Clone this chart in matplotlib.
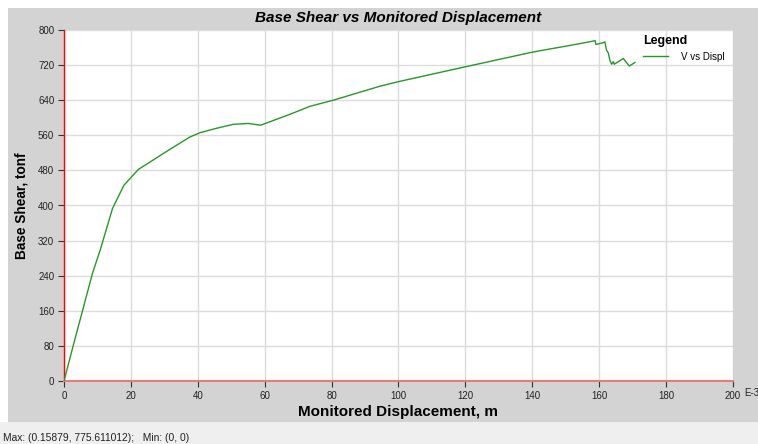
import matplotlib
matplotlib.use("Agg")
import matplotlib.pyplot as plt
from matplotlib.patches import Rectangle

plt.rcParams['font.family'] = ['Liberation Sans', 'DejaVu Sans']

# pushover curve, displacement in E-3 m, base shear in tonf
displ = [0, 2.8, 5.6, 8.5, 10.8, 14.5, 17.9, 22.2, 30, 37.6, 40.7, 45.6, 50.6,
         55.1, 58.8, 61.6, 67.6, 73.5, 80.5, 94.5, 100.4, 119.9, 140.3, 154.3,
         158.79, 159.0, 161.2, 161.7, 162.2, 162.7, 163.2, 163.7, 164.2, 164.5,
         167.2, 169.0, 170.7]
shear = [0, 82, 162, 245, 298, 393, 446, 482, 520, 556, 566, 576, 585,
         587, 583, 591, 608, 626, 640, 672, 683, 716, 750, 769,
         775.6, 767, 771, 773, 754, 748, 731, 722, 728, 722,
         735, 718, 726]

x_ticks = [0, 20, 40, 60, 80, 100, 120, 140, 160, 180, 200]
y_ticks = [0, 80, 160, 240, 320, 400, 480, 560, 640, 720, 800]

W, H = 758, 444
fig = plt.figure(figsize=(W / 100, H / 100), dpi=100, facecolor='white')

# panel backgrounds
fig.patches.append(Rectangle((8 / W, 22 / H), 1, (422 - 8) / H, transform=fig.transFigure,
                             facecolor='#d3d3d3', edgecolor='none', zorder=-2))
fig.patches.append(Rectangle((0, 0), 1, 22 / H, transform=fig.transFigure,
                             facecolor='#efefef', edgecolor='none', zorder=-2))

ax = fig.add_axes([64 / W, (H - 381) / H, 669 / W, 351 / H])
ax.set_facecolor('white')

ax.plot(displ, shear, color='#279827', linewidth=1.0, label='V vs Displ', zorder=3)

ax.set_xlim(0, 200)
ax.set_ylim(0, 800)
ax.set_xticks(x_ticks)
ax.set_yticks(y_ticks)
ax.grid(True, color='#dcdcdc', linewidth=1.0)
ax.set_axisbelow(True)

for s in ['top', 'right']:
    ax.spines[s].set_visible(False)
ax.spines['left'].set_color('#ff0000')
ax.spines['left'].set_linewidth(1.0)
ax.spines['bottom'].set_color('#f07878')
ax.spines['bottom'].set_linewidth(1.5)

ax.tick_params(axis='both', length=4, width=0.8, color='#333333',
               labelsize=7, labelcolor='#222222', pad=3)

ax.set_title('Base Shear vs Monitored Displacement', fontsize=11,
             fontweight='bold', style='italic', pad=6)
ax.set_xlabel('Monitored Displacement, m', fontsize=11, fontweight='bold', labelpad=3)
ax.set_ylabel('Base Shear, tonf', fontsize=9.8, fontweight='bold', labelpad=7)

fig.text(744 / W, 1 - 393 / H, 'E-3', fontsize=7, color='#222222',
         ha='left', va='center')

leg = fig.legend(loc='upper left', bbox_to_anchor=(634 / W, 1 - 26 / H),
                 frameon=False, title='Legend', fontsize=7,
                 title_fontproperties={'weight': 'bold', 'size': 9},
                 alignment='left', handlelength=2.6, handletextpad=1.3)

fig.text(3 / W, 1 - 438 / H, 'Max: (0.15879, 775.611012);   Min: (0, 0)',
         fontsize=7.4, color='#222222', ha='left', va='center')

plt.savefig('out.png', dpi=100, facecolor='white')
plt.close()
